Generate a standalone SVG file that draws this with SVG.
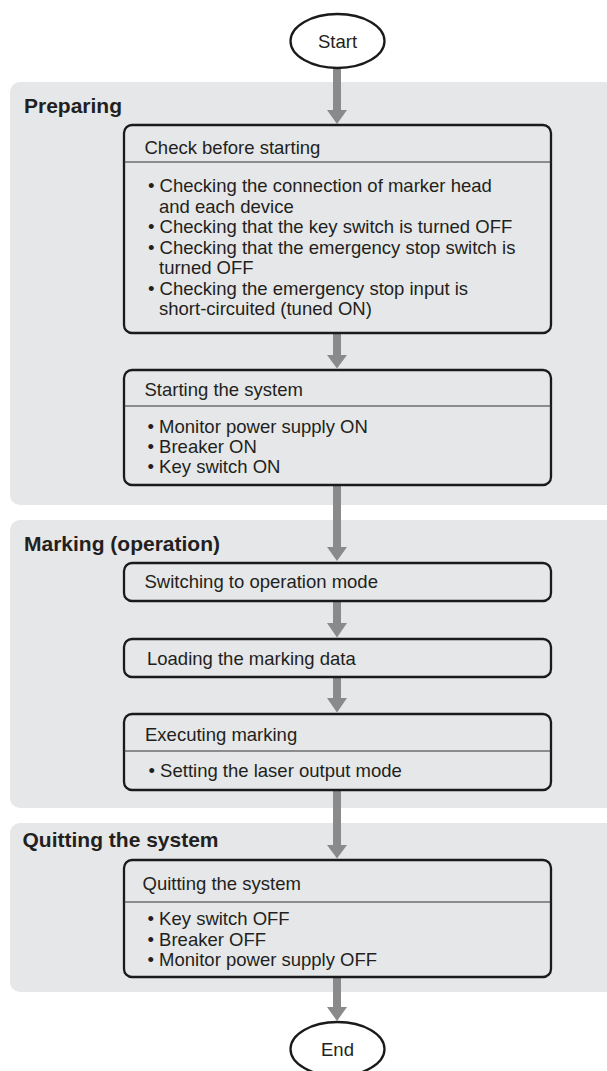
<svg xmlns="http://www.w3.org/2000/svg" width="607" height="1071" viewBox="0 0 607 1071">
<style>
.panel{fill:#e6e7e8;stroke:none}
.box{fill:none;stroke:#1a1a1a;stroke-width:2.3}
.div{stroke:#333;stroke-width:1.2}
.term{fill:#fff;stroke:#1a1a1a;stroke-width:2.3}
.t{font-family:"Liberation Sans",Arial,sans-serif;font-size:18.5px;fill:#231f20}
.h{font-family:"Liberation Sans",Arial,sans-serif;font-size:21px;font-weight:bold;fill:#231f20}
.shaft{stroke:#8a8a8a;stroke-width:8;fill:none}
.head{fill:#8a8a8a}
</style>
<rect width="607" height="1071" fill="#fff"/>
<g id="panel-preparing">
<rect class="panel" x="10" y="82" width="620" height="423" rx="10"/>
<text class="h" x="24" y="112.5">Preparing</text>
</g>
<g id="panel-marking">
<rect class="panel" x="10" y="520" width="620" height="288" rx="10"/>
<text class="h" x="24" y="551">Marking (operation)</text>
</g>
<g id="panel-quitting">
<rect class="panel" x="10" y="823" width="620" height="169" rx="10"/>
<text class="h" x="22.5" y="847">Quitting the system</text>
</g>
<g id="connectors">
<line class="shaft" x1="337" y1="68" x2="337" y2="111"/><polygon class="head" points="327,110 347,110 337,124"/>
<line class="shaft" x1="337" y1="334" x2="337" y2="356"/><polygon class="head" points="327,355 347,355 337,368.5"/>
<line class="shaft" x1="337" y1="486" x2="337" y2="548"/><polygon class="head" points="327,547 347,547 337,561"/>
<line class="shaft" x1="337" y1="602" x2="337" y2="624"/><polygon class="head" points="327,623 347,623 337,637.5"/>
<line class="shaft" x1="337" y1="678" x2="337" y2="699"/><polygon class="head" points="327,698 347,698 337,712.5"/>
<line class="shaft" x1="337" y1="791" x2="337" y2="846"/><polygon class="head" points="327,845 347,845 337,858.5"/>
<line class="shaft" x1="337" y1="978" x2="337" y2="1008"/><polygon class="head" points="327,1007 347,1007 337,1021"/>
</g>
<g id="start">
<ellipse class="term" cx="337.5" cy="41" rx="47" ry="27"/>
<text class="t" x="337.5" y="47.5" text-anchor="middle">Start</text>
</g>
<g id="check-before-starting">
<rect class="box" x="124" y="125" width="427" height="208" rx="8"/>
<line class="div" x1="124" y1="162" x2="551" y2="162"/>
<text class="t" x="144.5" y="153.5">Check before starting</text>
<text class="t" x="148" y="192">• Checking the connection of marker head</text>
<text class="t" x="159" y="212.5">and each device</text>
<text class="t" x="148" y="233">• Checking that the key switch is turned OFF</text>
<text class="t" x="148" y="253.5">• Checking that the emergency stop switch is</text>
<text class="t" x="159" y="274">turned OFF</text>
<text class="t" x="148" y="294.5">• Checking the emergency stop input is</text>
<text class="t" x="159" y="315">short-circuited (tuned ON)</text>
</g>
<g id="starting-the-system">
<rect class="box" x="124" y="370" width="427" height="115" rx="8"/>
<line class="div" x1="124" y1="406" x2="551" y2="406"/>
<text class="t" x="144.5" y="396">Starting the system</text>
<text class="t" x="147.5" y="433">• Monitor power supply ON</text>
<text class="t" x="147.5" y="453">• Breaker ON</text>
<text class="t" x="147.5" y="473">• Key switch ON</text>
</g>
<g id="switching-to-operation-mode">
<rect class="box" x="124" y="563" width="427" height="38" rx="8"/>
<text class="t" x="144.5" y="588">Switching to operation mode</text>
</g>
<g id="loading-marking-data">
<rect class="box" x="124" y="639" width="427" height="38" rx="8"/>
<text class="t" x="147" y="665">Loading the marking data</text>
</g>
<g id="executing-marking">
<rect class="box" x="124" y="714" width="427" height="76" rx="8"/>
<line class="div" x1="124" y1="751" x2="551" y2="751"/>
<text class="t" x="145" y="741">Executing marking</text>
<text class="t" x="148.5" y="777">• Setting the laser output mode</text>
</g>
<g id="quitting-the-system">
<rect class="box" x="124" y="860" width="427" height="117" rx="8"/>
<line class="div" x1="124" y1="902" x2="551" y2="902"/>
<text class="t" x="142.5" y="890">Quitting the system</text>
<text class="t" x="147.5" y="925">• Key switch OFF</text>
<text class="t" x="147.5" y="945.5">• Breaker OFF</text>
<text class="t" x="147.5" y="966">• Monitor power supply OFF</text>
</g>
<g id="end">
<ellipse class="term" cx="337.5" cy="1049" rx="47" ry="27"/>
<text class="t" x="337.5" y="1055.5" text-anchor="middle">End</text>
</g>
</svg>
